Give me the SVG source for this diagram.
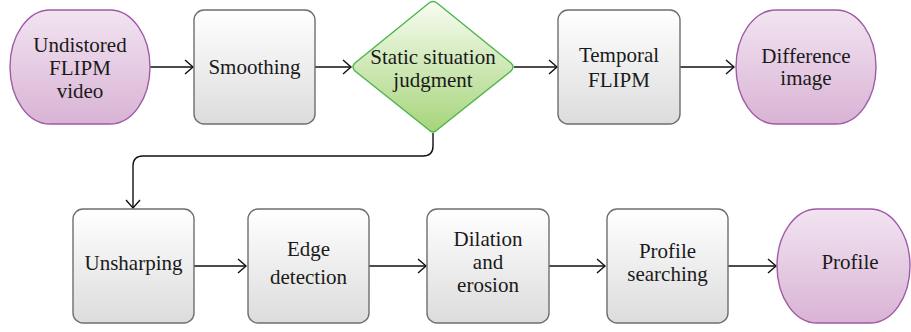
<svg xmlns="http://www.w3.org/2000/svg" width="911" height="332" viewBox="0 0 911 332">
  <defs>
    <linearGradient id="gPurple" x1="0" y1="0" x2="0" y2="1">
      <stop offset="0" stop-color="#f2e4f1"/>
      <stop offset="1" stop-color="#d9b3d5"/>
    </linearGradient>
    <linearGradient id="gGray" x1="0" y1="0" x2="0" y2="1">
      <stop offset="0" stop-color="#ffffff"/>
      <stop offset="1" stop-color="#dcdcdc"/>
    </linearGradient>
    <linearGradient id="gGreen" x1="0" y1="0" x2="0" y2="1">
      <stop offset="0" stop-color="#f8fcf2"/>
      <stop offset="1" stop-color="#a6d47a"/>
    </linearGradient>
    <marker id="arrow" markerWidth="12" markerHeight="18" refX="10" refY="9" orient="auto" markerUnits="userSpaceOnUse">
      <path d="M2,2 L10,9 L2,16" fill="none" stroke="#111" stroke-width="1.4"/>
    </marker>
  </defs>
  <style>
    .term { fill: url(#gPurple); stroke: #a05aa6; stroke-width: 1.4; }
    .proc { fill: url(#gGray); stroke: #6e6e6e; stroke-width: 1.4; }
    .dec { fill: url(#gGreen); stroke: #4cb54c; stroke-width: 1.4; }
    .edge { fill: none; stroke: #111; stroke-width: 1.4; marker-end: url(#arrow); }
    .lbl { font-size: 21px; fill: #1a1a1a; text-anchor: middle; }
  </style>
  <rect width="911" height="332" fill="#ffffff"/>

  <g id="connectors">
    <path class="edge" d="M150,67 H193"/>
    <path class="edge" d="M315,67 H351"/>
    <path class="edge" d="M514,67 H557"/>
    <path class="edge" d="M680,67 H734"/>
    <path class="edge" d="M433,133 V146 Q433,156 423,156 H143 Q133,156 133,166 V208"/>
    <path class="edge" d="M194,266 H246"/>
    <path class="edge" d="M369,266 H426"/>
    <path class="edge" d="M549,266 H605"/>
    <path class="edge" d="M728,266 H776"/>
  </g>

  <g id="node-undistorted-video">
    <rect class="term" x="10" y="10" width="140" height="114" rx="40" ry="57"/>
    <text class="lbl" font-family="Liberation Serif" x="80" y="52">Undistored</text>
    <text class="lbl" font-family="Liberation Serif" x="80" y="75">FLIPM</text>
    <text class="lbl" font-family="Liberation Serif" x="80" y="98">video</text>
  </g>

  <g id="node-smoothing">
    <rect class="proc" x="194" y="10" width="121" height="114" rx="10"/>
    <text class="lbl" font-family="Liberation Serif" x="254.5" y="74">Smoothing</text>
  </g>

  <g id="node-static-judgment">
    <path class="dec" d="M429,3 Q433,0 437,3 L511,63 Q515,67 511,71 L437,130 Q433,134 429,130 L355,71 Q351,67 355,63 Z"/>
    <text class="lbl" font-family="Liberation Serif" x="433" y="64">Static situation</text>
    <text class="lbl" font-family="Liberation Serif" x="433" y="87">judgment</text>
  </g>

  <g id="node-temporal-flipm">
    <rect class="proc" x="558" y="10" width="122" height="114" rx="10"/>
    <text class="lbl" font-family="Liberation Serif" x="619" y="62">Temporal</text>
    <text class="lbl" font-family="Liberation Serif" x="619" y="87">FLIPM</text>
  </g>

  <g id="node-difference-image">
    <rect class="term" x="736" y="10" width="140" height="114" rx="40" ry="57"/>
    <text class="lbl" font-family="Liberation Serif" x="806" y="63">Difference</text>
    <text class="lbl" font-family="Liberation Serif" x="806" y="85">image</text>
  </g>

  <g id="node-unsharping">
    <rect class="proc" x="73" y="209" width="121" height="114" rx="10"/>
    <text class="lbl" font-family="Liberation Serif" x="133.5" y="270">Unsharping</text>
  </g>

  <g id="node-edge-detection">
    <rect class="proc" x="248" y="209" width="121" height="114" rx="10"/>
    <text class="lbl" font-family="Liberation Serif" x="308.5" y="256">Edge</text>
    <text class="lbl" font-family="Liberation Serif" x="308.5" y="284">detection</text>
  </g>

  <g id="node-dilation-erosion">
    <rect class="proc" x="427" y="209" width="122" height="114" rx="10"/>
    <text class="lbl" font-family="Liberation Serif" x="488" y="246">Dilation</text>
    <text class="lbl" font-family="Liberation Serif" x="488" y="269">and</text>
    <text class="lbl" font-family="Liberation Serif" x="488" y="292">erosion</text>
  </g>

  <g id="node-profile-searching">
    <rect class="proc" x="607" y="209" width="121" height="114" rx="10"/>
    <text class="lbl" font-family="Liberation Serif" x="667.5" y="258">Profile</text>
    <text class="lbl" font-family="Liberation Serif" x="667.5" y="281">searching</text>
  </g>

  <g id="node-profile">
    <rect class="term" x="777" y="209" width="133" height="114" rx="40" ry="57"/>
    <text class="lbl" font-family="Liberation Serif" x="850" y="269">Profile</text>
  </g>
</svg>
